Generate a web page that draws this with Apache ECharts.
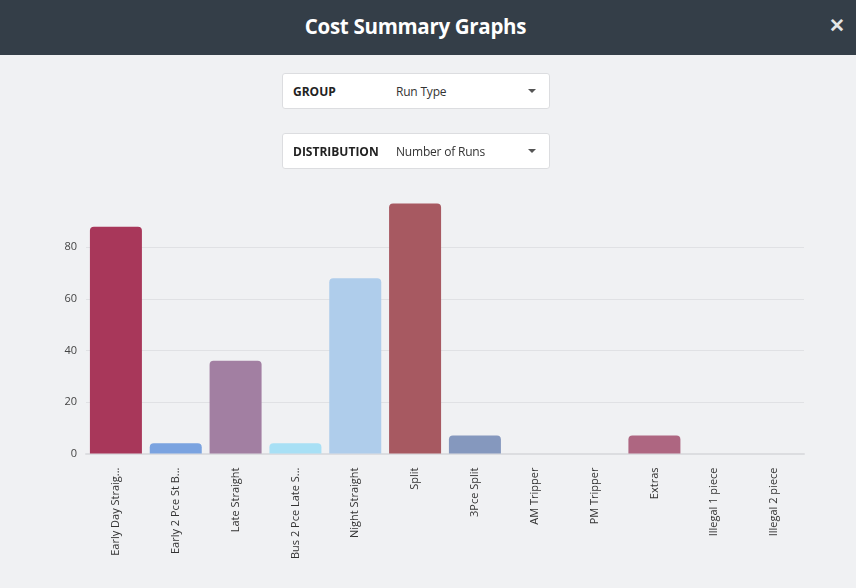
<!DOCTYPE html>
<html>
<head>
<meta charset="utf-8">
<script src="https://cdn.jsdelivr.net/npm/echarts@6/dist/echarts.min.js"></script>
<style>
html,body{margin:0;padding:0;width:856px;height:588px;background:#f0f1f3;overflow:hidden;font-family:"Open Sans","Noto Sans",sans-serif;}
#header{position:absolute;left:0;top:0;width:856px;height:55px;background:#343e48;color:#fff;}
#title{position:absolute;left:0;width:831px;top:12px;text-align:center;font-weight:700;font-size:20.5px;letter-spacing:-0.3px;}
#close{position:absolute;left:829px;top:12px;font-size:19px;font-weight:700;color:#e4e6e8;}
.dd{position:absolute;left:282px;width:266px;height:34px;background:#fff;border:1px solid #dcdde0;border-radius:3px;font-size:12px;color:#333;}
.dd .k{position:absolute;left:10px;top:9px;font-weight:700;color:#222;}
.dd .v{position:absolute;left:113px;top:9px;color:#333;letter-spacing:-0.2px;}
.dd .c{position:absolute;left:245px;top:15px;width:0;height:0;border-left:4px solid transparent;border-right:4px solid transparent;border-top:4px solid #555;}
#chart{position:absolute;left:0;top:0;width:856px;height:588px;}
</style>
</head>
<body>
<div id="chart"></div>
<div id="header"><div id="title">Cost Summary Graphs</div><div id="close">✕</div></div>
<div class="dd" style="top:73px"><span class="k">GROUP</span><span class="v">Run Type</span><span class="c"></span></div>
<div class="dd" style="top:133px"><span class="k">DISTRIBUTION</span><span class="v">Number of Runs</span><span class="c"></span></div>
<script>
var categories = ["Early Day Straig...","Early 2 Pce St B...","Late Straight","Bus 2 Pce Late S...","Night Straight","Split","3Pce Split","AM Tripper","PM Tripper","Extras","Illegal 1 piece","Illegal 2 piece"];
var runCounts = [88, 4, 36, 4, 68, 97, 7, 0, 0, 7, 0, 0];
var barColors = ["#a8375a","#7aa3e0","#a27fa2","#a8e0f5","#afcdeb","#a75961","#8598be","#8fbf8f","#d6a86a","#ae6681","#9a9ad0","#c08f6f"];
var yTicks = [0, 20, 40, 60, 80];

var chart = echarts.init(document.getElementById('chart'));
chart.setOption({
  animation:false,
  backgroundColor:'transparent',
  grid:{left:86, width:718, top:203.5, height:250},
  xAxis:{
    type:'category',
    data:categories,
    axisLine:{lineStyle:{color:'#dcdde0', width:2}},
    axisTick:{show:false},
    axisLabel:{rotate:90, interval:0, color:'#333', fontSize:11, fontFamily:'"Open Sans","Noto Sans",sans-serif', margin:14}
  },
  yAxis:{
    type:'value',
    min:0, max:Math.max.apply(null, runCounts), interval:20,
    axisLine:{show:false}, axisTick:{show:false},
    axisLabel:{color:'#444', fontSize:11, fontFamily:'"Open Sans","Noto Sans",sans-serif', margin:9, showMaxLabel:false,
      formatter:function(v){return yTicks.indexOf(v)>=0 ? String(v) : '';}},
    splitLine:{lineStyle:{color:'#e0e1e4', width:1}, showMaxLine:false}
  },
  series:[{
    type:'bar',
    barWidth:52,
    data:runCounts.map(function(v,i){return {value:v, itemStyle:{color:barColors[i]}};}),
    itemStyle:{borderRadius:[4,4,0,0]}
  }]
});
</script>
</body>
</html>
